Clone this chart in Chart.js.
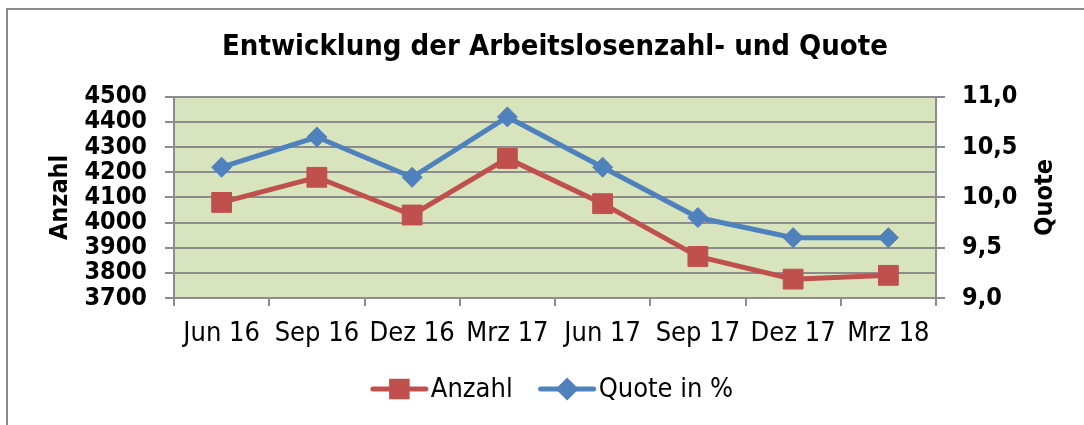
<!DOCTYPE html>
<html>
<head>
<meta charset="utf-8">
<script src="https://cdn.jsdelivr.net/npm/chart.js@4.4.1/dist/chart.umd.min.js"></script>
<style>
  body { margin: 0; background: #fff; overflow: hidden; }
  #frame { position: absolute; left: 6px; top: 8px; width: 1100px; height: 440px; border: 2px solid #8c8c8c; }
  #chart { position: absolute; left: 8px; top: 10px; }
</style>
</head>
<body>
<div id="frame"></div>
<canvas id="chart" width="1076" height="415"></canvas>
<script>
const labels = ["Jun 16", "Sep 16", "Dez 16", "Mrz 17", "Jun 17", "Sep 17", "Dez 17", "Mrz 18"];
const anzahl = [4080, 4180, 4030, 4255, 4075, 3865, 3775, 3790];
const quote = [10.3, 10.6, 10.2, 10.8, 10.3, 9.8, 9.6, 9.6];

const FONT = '"DejaVu Sans Condensed", "DejaVu Sans", sans-serif';
const RED = "#C0504D";
const BLUE = "#4F81BD";
const GRID = "#8c8c8c";

const plotBackground = {
  id: "plotBackground",
  beforeDraw(chart) {
    const { ctx, chartArea: a } = chart;
    ctx.save();
    ctx.fillStyle = "#D7E4BD";
    ctx.fillRect(a.left, a.top, a.right - a.left, a.bottom - a.top);
    ctx.restore();
  }
};

// right axis title reads bottom-to-top, and the legend shows line + marker
const extras = {
  id: "extras",
  afterDraw(chart) {
    const { ctx, chartArea: a } = chart;
    ctx.save();
    ctx.fillStyle = "#000";
    ctx.font = "bold 25px " + FONT;
    ctx.textAlign = "center";
    ctx.textBaseline = "middle";
    ctx.translate(1037, (a.top + a.bottom) / 2);
    ctx.rotate(-Math.PI / 2);
    ctx.fillText("Quote", 0, 0);
    ctx.restore();

    ctx.save();
    ctx.font = "27px " + FONT;
    const items = chart.data.datasets.map(ds => ({
      text: ds.label, color: ds.borderColor, style: ds.pointStyle,
      radius: ds.pointStyle === "rect" ? 11 : 8, w: ctx.measureText(ds.label).width
    }));
    const lineW = 57, gap = 3, between = 26;
    const total = items.reduce((s, it) => s + lineW + gap + it.w, 0) + between * (items.length - 1);
    let x = (a.left + a.right) / 2 - 3 - total / 2;
    const y = 379;
    items.forEach(it => {
      ctx.strokeStyle = it.color;
      ctx.fillStyle = it.color;
      ctx.lineWidth = 5;
      ctx.lineCap = "round";
      ctx.beginPath();
      ctx.moveTo(x + 2, y);
      ctx.lineTo(x + lineW - 2, y);
      ctx.stroke();
      Chart.helpers.drawPoint(ctx, { pointStyle: it.style, radius: it.radius, borderWidth: 1, rotation: 0 }, x + lineW / 2, y);
      ctx.fillStyle = "#000";
      ctx.textAlign = "left";
      ctx.textBaseline = "middle";
      ctx.fillText(it.text, x + lineW + gap, y + 1);
      x += lineW + gap + it.w + between;
    });
    ctx.restore();
  }
};

new Chart(document.getElementById("chart"), {
  type: "line",
  data: {
    labels: labels,
    datasets: [
      {
        label: "Anzahl",
        data: anzahl,
        yAxisID: "y",
        borderColor: RED,
        backgroundColor: RED,
        borderWidth: 5,
        pointStyle: "rect",
        pointRadius: 14,
        pointBorderWidth: 1,
        tension: 0
      },
      {
        label: "Quote in %",
        data: quote,
        yAxisID: "y1",
        borderColor: BLUE,
        backgroundColor: BLUE,
        borderWidth: 5,
        pointStyle: "rectRot",
        pointRadius: 10,
        pointBorderWidth: 1,
        tension: 0
      }
    ]
  },
  options: {
    responsive: false,
    animation: false,
    layout: { padding: 0 },
    plugins: {
      legend: { display: false },
      tooltip: { enabled: false },
      title: {
        display: true,
        fullSize: false,
        text: "Entwicklung der Arbeitslosenzahl- und Quote",
        color: "#000",
        font: { family: FONT, size: 29, weight: "bold" },
        padding: { top: 20, bottom: 32 }
      }
    },
    scales: {
      x: {
        offset: true,
        grid: { offset: true, drawOnChartArea: false, color: GRID, lineWidth: 2, tickLength: 8 },
        border: { color: GRID, width: 2 },
        ticks: { color: "#000", font: { family: FONT, size: 27 }, padding: 12, maxRotation: 0 },
        afterFit(scale) { scale.height = 127; }
      },
      y: {
        position: "left",
        min: 3700,
        max: 4500,
        ticks: {
          stepSize: 100,
          autoSkip: false,
          color: "#000",
          font: { family: FONT, size: 25, weight: "bold" },
          padding: 18,
          callback: v => String(v)
        },
        grid: { color: GRID, lineWidth: 2, tickLength: 9 },
        border: { color: GRID, width: 2 },
        title: {
          display: true,
          text: "Anzahl",
          color: "#000",
          font: { family: FONT, size: 25, weight: "bold" },
          padding: { top: 37, bottom: 0 }
        },
        afterFit(scale) { scale.width = 166; }
      },
      y1: {
        position: "right",
        min: 9,
        max: 11,
        ticks: {
          stepSize: 0.5,
          autoSkip: false,
          color: "#000",
          font: { family: FONT, size: 25, weight: "bold" },
          padding: 17,
          callback: v => v.toFixed(1).replace(".", ",")
        },
        grid: { drawOnChartArea: false, color: GRID, lineWidth: 2, tickLength: 9 },
        border: { color: GRID, width: 2 },
        afterFit(scale) { scale.width = 148; }
      }
    }
  },
  plugins: [plotBackground, extras]
});
</script>
</body>
</html>
